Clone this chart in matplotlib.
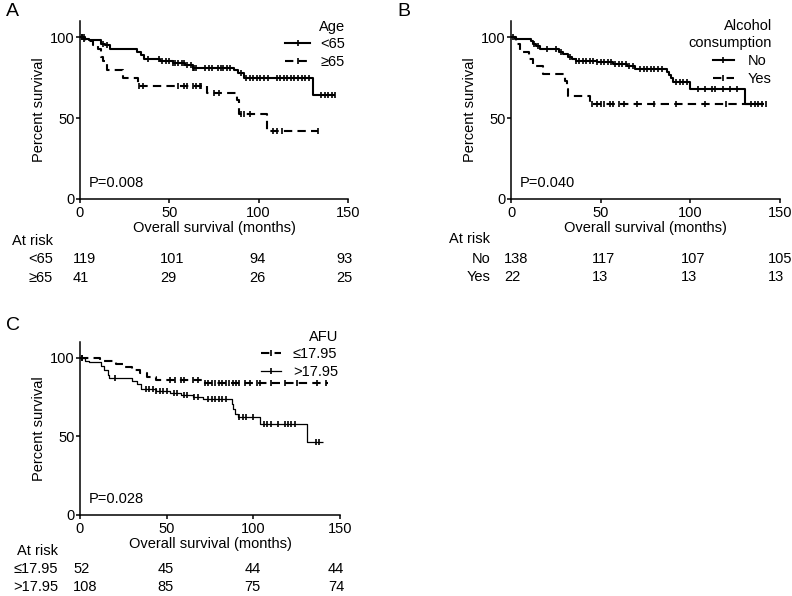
import numpy as np
import matplotlib
matplotlib.use("Agg")
import matplotlib.pyplot as plt
from matplotlib.lines import Line2D
from matplotlib.transforms import blended_transform_factory

plt.rcParams['font.family'] = ['Liberation Sans', 'DejaVu Sans']
plt.rcParams['font.size'] = 10.5

# ---------------- data ----------------
# Panel A: Age
A_lt65_t = [2, 5, 12, 14, 17, 32, 34, 36, 45, 52, 59, 63, 86, 88.5, 92, 130.5]
A_lt65_s = [99, 98, 96, 95, 93, 91, 89, 86.5, 85, 84, 82.5, 81, 80, 78, 74.5, 64]
A_lt65_end = 143
A_lt65_cens = [1, 2.5, 13, 15, 38, 44, 46, 48, 50, 52, 53, 55, 57, 58, 60, 62, 63, 64, 65,
               70, 72, 74, 77, 79, 80, 82, 84, 90, 93, 95, 97, 99, 101, 103, 105, 110, 112,
               114, 116, 118, 120, 122, 124, 126, 128, 135, 137, 139, 141, 143]
A_ge65_t = [3, 7, 10, 12, 13, 15, 24, 32.5, 71, 88, 89, 104.5]
A_ge65_s = [97.5, 95, 92.5, 87.5, 85, 80, 75, 70, 65.5, 61, 52.5, 42]
A_ge65_end = 133
A_ge65_cens = [1, 2, 33, 35, 55, 58, 60, 63, 65, 67, 68, 75, 78, 90, 92, 95, 108, 110, 113, 133]

# Panel B: Alcohol consumption
B_no_t = [2, 11, 12.5, 14, 16, 27, 29, 32, 34, 36, 48, 57, 64.5, 69, 87, 88, 89, 90.5, 100, 130.5]
B_no_s = [99, 97.5, 96, 94.5, 92.5, 91, 89.5, 88, 86.5, 85.5, 84.5, 83.5, 82, 80.5, 78.5, 76.5,
          74.5, 72.5, 68, 58.5]
B_no_end = 141
B_no_cens = [1, 13, 15, 20, 25, 28, 33, 36, 38, 40, 42, 44, 46, 48, 50, 52, 54, 56, 58, 60, 62,
             64, 66, 68, 72, 74, 76, 78, 80, 82, 84, 92, 94, 96, 98, 104, 108, 112, 114, 118,
             122, 126, 134, 136, 138, 140]
B_yes_t = [3, 5, 10, 12, 18, 30, 31, 32, 44]
B_yes_s = [95.5, 91, 86.5, 82, 77.5, 73, 68, 63.5, 59]
B_yes_end = 143
B_yes_cens = [45, 48, 50, 52, 55, 57, 60, 63, 70, 80, 92, 108, 120, 142]

# Panel C: AFU
C_le_t = [11.5, 21, 26, 30, 34.5, 38.5, 44, 71]
C_le_s = [98, 96, 94, 92, 90, 88, 86, 84]
C_le_end = 143
C_le_cens = [1, 52, 55, 58, 60, 65, 68, 72, 74, 76, 78, 80, 82, 84, 86, 88, 90, 92, 95, 98,
             102, 104, 110, 118, 125, 137, 142]
C_gt_t = [3, 5, 12, 14, 16, 17, 30, 33, 35, 44, 52, 58, 65, 71, 87.5, 88.5, 89.5, 91.3, 104, 131]
C_gt_s = [98, 97, 95, 92, 89, 87, 85, 83, 80, 79, 77.5, 76, 75, 73.5, 70.5, 67.5, 64.5, 62.5,
          58, 46.5]
C_gt_end = 140
C_gt_cens = [1, 20, 38, 40, 42, 44, 46, 48, 50, 54, 56, 60, 62, 66, 68, 74, 76, 78, 80, 82, 84,
             92, 94, 96, 100, 106, 108, 110, 114, 118, 120, 122, 124, 136, 138]

risk_times = [0, 50, 100, 150]
A_labels = ["<65", "\u226565"]
A_risk = [[119, 101, 94, 93], [41, 29, 26, 25]]
B_labels = ["No", "Yes"]
B_risk = [[138, 117, 107, 105], [22, 13, 13, 13]]
C_labels = ["\u226417.95", ">17.95"]
C_risk = [[52, 45, 44, 44], [108, 85, 75, 74]]

W, H = 792, 596
fig = plt.figure(figsize=(W / 100, H / 100), dpi=100)
DASH = (4, 2.5)


def px_axes(x0, x1, ytop, ybot):
    return fig.add_axes([x0 / W, 1 - ybot / H, (x1 - x0) / W, (ybot - ytop) / H])


def km(ax, t, s, end, cens, ls, lw):
    tt = np.array([0] + list(t) + [end], float)
    ss = np.array([100] + list(s) + [s[-1]], float)
    ax.step(tt, ss, where='post', color='black', lw=lw, ls=ls,
            dashes=DASH if ls == '--' else (None, None), solid_capstyle='butt')
    c = np.array(cens, float)
    idx = np.searchsorted(tt, c, side='right') - 1
    ax.plot(c, ss[idx], ls='none', marker='|', ms=5, mew=1.2, color='black')


def style(ax):
    ax.set_xlim(0, 150)
    ax.set_ylim(0, 110)
    ax.set_xticks([0, 50, 100, 150])
    ax.set_yticks([0, 50, 100])
    for sp in ['top', 'right']:
        ax.spines[sp].set_visible(False)
    for sp in ['left', 'bottom']:
        ax.spines[sp].set_linewidth(1.1)
    ax.tick_params(axis='both', direction='out', length=3, width=1.1, labelsize=10.5)
    ax.tick_params(axis='x', pad=2)
    ax.tick_params(axis='y', pad=1)
    ax.set_xlabel("Overall survival (months)", labelpad=1)
    ax.set_ylabel("Percent survival", labelpad=3)


COL_OFF_PX = [-7, -9, -9, -12]


def risk_table(ax, labels, risk, lab_x, y_at, y_rows):
    fig.text(lab_x / W, 1 - y_at / H, "At risk", ha='right', va='center')
    tr = blended_transform_factory(ax.transData, fig.transFigure)
    for lab, row, yr in zip(labels, risk, y_rows):
        fig.text(lab_x / W, 1 - yr / H, lab, ha='right', va='center')
        for tx, v, off in zip(risk_times, row, COL_OFF_PX):
            ax.annotate(str(v), xy=(tx, 1 - yr / H), xycoords=tr, xytext=(off * 0.72, 0),
                        textcoords='offset points', ha='left', va='center', annotation_clip=False)


def legend(ax, title, labels, styles, lws, right_px, title_y_px, top_px, hlen, hpad):
    fig.text(right_px / W, 1 - title_y_px / H, title, ha='right', va='center',
             multialignment='right', linespacing=1.25)
    handles = [Line2D([], [], color='black', ls=st, lw=lw, marker='|', ms=5, mew=1.2,
                      dashes=DASH if st == '--' else (None, None))
               for st, lw in zip(styles, lws)]
    ax.legend(handles, labels, loc='upper right', frameon=False,
              handlelength=hlen, handletextpad=hpad, labelspacing=0.3,
              bbox_to_anchor=(right_px / W, 1 - top_px / H), bbox_transform=fig.transFigure,
              fontsize=10.5, borderaxespad=0.0, borderpad=0.0)


# Panel A
axA = px_axes(80, 348, 21, 199)
km(axA, A_lt65_t, A_lt65_s, A_lt65_end, A_lt65_cens, '-', 1.5)
km(axA, A_ge65_t, A_ge65_s, A_ge65_end, A_ge65_cens, '--', 1.5)
style(axA)
legend(axA, "Age", A_labels, ['-', '--'], [1.5, 1.5], 345, 27, 37, 1.7, 0.7)
axA.text(5, 10, "P=0.008", ha='left', va='center')
risk_table(axA, A_labels, A_risk, 53, 241, [259, 278])
fig.text(6 / W, 1 - 12 / H, "A", fontsize=14, ha='left', va='center')

# Panel B
axB = px_axes(511, 780, 21, 199)
km(axB, B_no_t, B_no_s, B_no_end, B_no_cens, '-', 1.5)
km(axB, B_yes_t, B_yes_s, B_yes_end, B_yes_cens, '--', 1.5)
style(axB)
legend(axB, "Alcohol\nconsumption", B_labels, ['-', '--'], [1.5, 1.5], 772, 34.5, 54, 1.4, 1.0)
axB.text(5, 10, "P=0.040", ha='left', va='center')
risk_table(axB, B_labels, B_risk, 490, 239, [259, 277])
fig.text(397 / W, 1 - 12 / H, "B", fontsize=14, ha='left', va='center')

# Panel C
axC = px_axes(80, 340, 342, 515)
km(axC, C_le_t, C_le_s, C_le_end, C_le_cens, '--', 1.5)
km(axC, C_gt_t, C_gt_s, C_gt_end, C_gt_cens, '-', 0.9)
style(axC)
legend(axC, "AFU", C_labels, ['--', '-'], [1.5, 0.9], 338, 337, 347, 1.4, 0.8)
axC.text(5, 10, "P=0.028", ha='left', va='center')
risk_table(axC, C_labels, C_risk, 58, 551, [569, 587])
fig.text(6 / W, 1 - 325 / H, "C", fontsize=14, ha='left', va='center')

fig.savefig("out.png", dpi=100)
